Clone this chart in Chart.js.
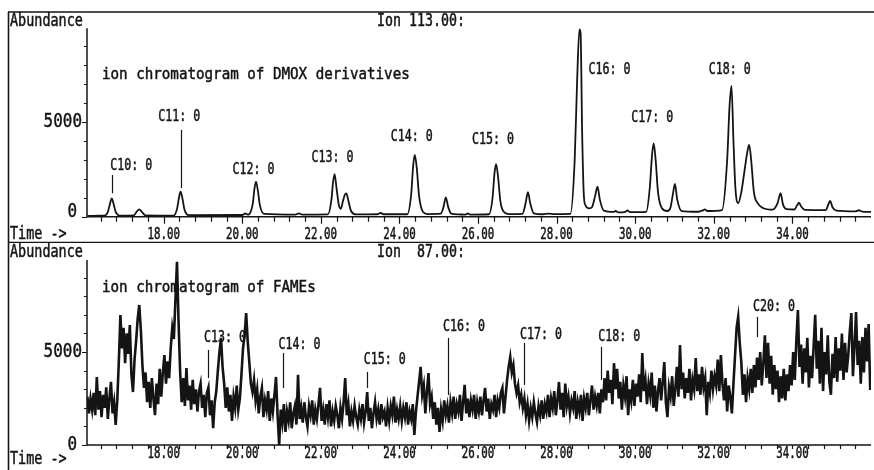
<!DOCTYPE html>
<html>
<head>
<meta charset="utf-8">
<title>Ion chromatograms</title>
<script src="https://cdn.jsdelivr.net/npm/chart.js@4.4.1/dist/chart.umd.min.js"></script>
<style>
  html, body { margin: 0; padding: 0; background: #fff; }
  #wrap { position: relative; width: 874px; height: 470px; overflow: hidden; }
  canvas { position: absolute; left: 0; }
  #dmoxChart { top: 0; }
  #fameChart { top: 243px; }
</style>
</head>
<body>
<div id="wrap">
  <canvas id="dmoxChart" width="874" height="243"></canvas>
  <canvas id="fameChart" width="874" height="227"></canvas>
</div>
<script>
// ion 113 - DMOX derivatives (time in min, abundance)
const dmoxTime = [
  16.06, 16.40, 16.50, 16.58, 16.63, 16.68, 16.73, 16.78, 16.88,
  17.24, 17.32, 17.38, 17.44, 17.54,
  18.25, 18.34, 18.39, 18.43, 18.48, 18.53, 18.64,
  20.00, 20.08, 20.14, 20.18, 20.27, 20.31, 20.35, 20.40, 20.45, 20.56,
  21.35, 21.44, 21.53,
  22.18, 22.27, 22.31, 22.35, 22.40, 22.46, 22.51, 22.56, 22.61, 22.65, 22.70, 22.77, 22.90,
  23.45, 23.52, 23.60,
  24.20, 24.30, 24.35, 24.39, 24.44, 24.50, 24.60, 24.72,
  25.05, 25.12, 25.18, 25.24, 25.32, 25.50, 25.68, 25.74, 25.80,
  26.28, 26.37, 26.42, 26.46, 26.51, 26.57, 26.67, 26.80,
  27.13, 27.21, 27.27, 27.33, 27.42, 27.65, 27.80, 27.95,
  28.35, 28.46, 28.52, 28.58, 28.61, 28.65, 28.69, 28.73, 28.83,
  28.90, 28.98, 29.04, 29.10, 29.20, 29.45, 29.50, 29.58, 29.75, 29.80, 29.87,
  30.28, 30.37, 30.43, 30.47, 30.52, 30.58, 30.68, 30.82,
  30.90, 30.96, 31.01, 31.07, 31.18, 31.60, 31.72, 31.77, 31.83,
  32.21, 32.34, 32.40, 32.45, 32.50, 32.55, 32.62,
  32.70, 32.80, 32.86, 32.90, 32.95, 33.02, 33.12, 33.25,
  33.50, 33.62, 33.70, 33.76, 33.85,
  34.05, 34.12, 34.17, 34.22, 34.32,
  34.85, 34.91, 34.96, 35.02, 35.12,
  35.60, 35.69, 35.78, 36.00
];
const dmoxAbundance = [
  40, 50, 60, 250, 650, 970, 650, 250, 60,
  70, 280, 390, 270, 70,
  60, 400, 1000, 1320, 950, 380, 80,
  90, 170, 110, 140, 700, 1450, 1850, 1350, 600, 150,
  110, 180, 110,
  120, 900, 1800, 2250, 1500, 600, 420, 800, 1150, 1235, 850, 300, 120,
  130, 195, 130,
  130, 1200, 2700, 3260, 2600, 1100, 250, 140,
  160, 500, 1020, 520, 160, 120, 110, 170, 110,
  130, 1000, 2300, 2770, 2100, 800, 230, 140,
  150, 700, 1290, 700, 180, 130, 160, 140,
  150, 2990, 7040, 9890, 9700, 4400, 1240, 620, 440,
  500, 1100, 1580, 900, 320, 250, 300, 230, 260, 330, 240,
  260, 1500, 3300, 3870, 3000, 1300, 450, 300,
  500, 1200, 1730, 900, 300, 260, 330, 390, 300,
  350, 2990, 5810, 6900, 4000, 1500, 710,
  1300, 2700, 3500, 3790, 3000, 1300, 700, 460,
  370, 700, 1240, 650, 400,
  380, 600, 740, 550, 360,
  350, 620, 830, 500, 320,
  280, 340, 270, 250
];

// ion 87 - FAMEs, one reading every 0.04 min from 16.06 min
const fameStart = 16.06;
const fameStep = 0.04;
const fameAbundance = [
  2600, 1700, 2500, 1900, 2800, 1600, 3650, 1900, 2900, 1500, 2700, 2000, 3100, 1400, 2500, 3400, 1700, 2300, 1080, 2400, 4500, 6990, 5200, 6300, 4400,
  6000, 4900, 6450, 3800, 2850, 4600, 5600, 6800, 7530, 6200, 4300, 3070, 3900, 2300, 3400, 2000, 3600, 2500, 1600, 3300, 2200, 4100, 2600, 3900, 4840,
  3300, 4500, 3600, 5200, 6300, 5700, 7800, 9850, 6620, 3930, 2300, 3600, 2100, 4140, 2400, 3200, 1900, 3500, 2200, 3000, 1800, 2900, 3300, 2000, 2700,
  1500, 2800, 3100, 1600, 2400, 900, 2300, 2900, 4000, 5000, 5760, 4200, 3300, 2000, 3100, 1800, 2700, 1300, 2600, 2000, 3200, 1900, 2500, 3800, 5200,
  5900, 7100, 5560, 4460, 3300, 2850, 3500, 2400, 3000, 1700, 2600, 3070, 1500, 2400, 1900, 2900, 1300, 2500, 1800, 2700, 3660, 1600, 0, 1900, 1200,
  2200, 700, 1800, 1300, 2300, 900, 1700, 2100, 1100, 3770, 1400, 2000, 1200, 2300, 1500, 1000, 2100, 1600, 2400, 1100, 1900, 1400, 2200, 3070, 1300,
  1900, 1100, 2200, 1500, 2400, 1000, 1800, 1300, 2100, 1600, 900, 2000, 1400, 2300, 3600, 1600, 2200, 1000, 1800, 1300, 2100, 1500, 1100, 1900, 1400,
  2200, 1200, 1800, 2850, 1300, 2000, 900, 1700, 2300, 1400, 1900, 1100, 2200, 1500, 1800, 1000, 2000, 1300, 2100, 1600, 2600, 1200, 1900, 1400, 2100,
  1300, 2000, 1500, 2300, 1100, 1800, 1400, 2200, 540, 1800, 2600, 3400, 4200, 2700, 3200, 1700, 2900, 3870, 2200, 2600, 1400, 2300, 1100, 2000, 700,
  1900, 1300, 2400, 1600, 2100, 1200, 2300, 1700, 2600, 1400, 2200, 1800, 2700, 1300, 2300, 3230, 1700, 2500, 1500, 2400, 1900, 2700, 1400, 2300, 1800,
  2600, 1600, 2400, 3070, 1800, 2500, 1400, 2200, 1900, 2700, 1500, 2400, 2000, 2800, 3070, 1700, 2600, 3500, 4200, 4730, 3900, 4300, 3300, 2800, 3200,
  2300, 2700, 2000, 2500, 1600, 2200, 1300, 2000, 1500, 2300, 1700, 1240, 2100, 1600, 2400, 1400, 2200, 1800, 2700, 1500, 2500, 2000, 2900, 1600, 2400,
  3390, 1900, 2800, 1500, 3300, 2100, 2600, 1700, 2400, 2000, 2900, 1400, 2300, 1800, 2700, 1300, 2500, 2000, 2800, 1600, 2400, 3200, 1900, 2600, 2100,
  2800, 1700, 3000, 2300, 3600, 2400, 4000, 2800, 3500, 2200, 4400, 3000, 4100, 2500, 3400, 1900, 3200, 2600, 3700, 1600, 3000, 2400, 3500, 2100, 3300,
  2600, 3800, 2300, 4950, 2900, 3500, 2200, 3300, 2700, 3900, 2000, 3200, 1800, 2900, 3600, 2400, 3400, 4460, 2300, 1500, 3100, 2600, 3700, 2100, 3000,
  4200, 2600, 5380, 3000, 3900, 2500, 3600, 2800, 4100, 2400, 3500, 3000, 4680, 2900, 3800, 2700, 4200, 3100, 3600, 1600, 3400, 2800, 4000, 3000, 3700,
  3200, 4600, 2900, 4840, 3300, 2400, 3600, 1800, 3200, 2600, 1700, 3300, 4800, 6300, 6890, 5500, 4460, 2700, 3800, 2300, 3600, 3000, 4100, 2800, 4300,
  3100, 4700, 3500, 5000, 3200, 4400, 5900, 3600, 5500, 3300, 4800, 2700, 4300, 3000, 4000, 2300, 3700, 2500, 4100, 2400, 3800, 2900, 4300, 3200, 5000,
  3500, 5600, 7260, 4200, 5400, 3300, 5200, 3900, 5760, 3100, 4800, 3600, 5300, 7000, 4100, 5600, 3300, 6300, 2900, 5000, 3800, 5900, 3400, 2700, 4900,
  3600, 5800, 3400, 5200, 4000, 6000, 3500, 5500, 3900, 4800, 6100, 7100, 3700, 5300, 7150, 4300, 5600, 3300, 5800, 3900, 6300, 4500, 6500, 2960
];

// axis labels
const timeTickValues = [18, 20, 22, 24, 26, 28, 30, 32, 34];
const timeTickLabels = ['18.00', '20.00', '22.00', '24.00', '26.00', '28.00', '30.00', '32.00', '34.00'];
const abundanceTickValues = [0, 5000];
const abundanceTickLabels = ['0', '5000'];

const INK = '#141414';
const FONT = '"DejaVu Sans Mono", "Liberation Mono", monospace';

// text squeezed to a fixed character pitch, like the plotter font
function putText(ctx, s, x, y, size, pitch, align) {
  ctx.save();
  ctx.font = size + 'px ' + FONT;
  ctx.textBaseline = 'middle';
  ctx.textAlign = 'left';
  const w = ctx.measureText(s).width;
  const tw = pitch * s.length;
  let x0 = x;
  if (align === 'right') x0 = x - tw;
  if (align === 'center') x0 = x - tw / 2;
  ctx.translate(x0, y);
  ctx.scale(tw / w, 1);
  ctx.fillStyle = INK;
  ctx.strokeStyle = INK;
  ctx.lineWidth = 0.5;
  ctx.fillText(s, 0, 0);
  ctx.strokeText(s, 0, 0);
  ctx.restore();
}

function makePanelPlugin(cfg) {
  return {
    id: 'panel' + cfg.name,
    afterDraw(chart) {
      const ctx = chart.ctx;
      const xs = chart.scales.x;
      const ys = chart.scales.y;
      const a = chart.chartArea;
      ctx.save();
      ctx.strokeStyle = INK;

      // page frame
      ctx.lineWidth = 1.6;
      ctx.beginPath();
      cfg.frame.forEach(s => { ctx.moveTo(s[0], s[1]); ctx.lineTo(s[2], s[3]); });
      ctx.stroke();

      // axes
      ctx.lineWidth = 1.5;
      ctx.beginPath();
      ctx.moveTo(a.left, a.top);
      ctx.lineTo(a.left, a.bottom);
      ctx.lineTo(a.right, a.bottom);
      ctx.stroke();

      // tick marks
      ctx.lineWidth = 1.2;
      ctx.beginPath();
      for (let v = 0; v <= 9000; v += 1000) {
        const py = Math.round(ys.getPixelForValue(v)) + 0.5;
        ctx.moveTo(a.left - (v % 5000 === 0 ? 5 : 3), py);
        ctx.lineTo(a.left, py);
      }
      for (let k = 0; k < 50; k++) {
        const t = 16.4 + k * 0.4;
        if (t > 35.7) break;
        const px = Math.round(xs.getPixelForValue(t)) + 0.5;
        const major = Math.abs(t / 2 - Math.round(t / 2)) < 0.01;
        ctx.moveTo(px, a.bottom);
        ctx.lineTo(px, a.bottom + (major ? cfg.tickLen[1] : cfg.tickLen[0]));
      }
      ctx.stroke();

      // tick labels
      timeTickValues.forEach((t, i) => {
        putText(ctx, timeTickLabels[i], xs.getPixelForValue(t), cfg.tickLabelY, 15, 6.5, 'center');
      });
      abundanceTickValues.forEach((v, i) => {
        const right = v === 0 ? 77 : 82;
        putText(ctx, abundanceTickLabels[i], right, ys.getPixelForValue(v) + cfg.zeroShift * (v === 0 ? 1 : 0), 20, 9.6, 'right');
      });

      // headers
      putText(ctx, 'Abundance', 10, cfg.headerY, 17, 8.1, 'left');
      putText(ctx, cfg.ion, 377, cfg.headerY, 17, 8.0, 'left');
      putText(ctx, 'Time ->', 10, cfg.timeY, 17, 8.1, 'left');

      // subtitle
      putText(ctx, cfg.title, xs.getPixelForValue(cfg.titleAt[0]), ys.getPixelForValue(cfg.titleAt[1]), 16, 8.55, 'left');

      // peak names with their marker strokes
      cfg.peaks.forEach(p => {
        putText(ctx, p.text, xs.getPixelForValue(p.t), ys.getPixelForValue(p.v), 16, 7.0, 'left');
        if (p.mark) {
          const mx = Math.round(xs.getPixelForValue(p.mark[0])) + 0.5;
          ctx.lineWidth = 1.2;
          ctx.beginPath();
          ctx.moveTo(mx, ys.getPixelForValue(p.mark[1]));
          ctx.lineTo(mx, ys.getPixelForValue(p.mark[2]));
          ctx.stroke();
        }
      });
      ctx.restore();
    }
  };
}

const dmoxPanel = {
  name: 'Dmox',
  ion: 'Ion 113.00:',
  title: 'ion chromatogram of DMOX derivatives',
  titleAt: [16.43, 7480],
  headerY: 21.5,
  timeY: 235,
  tickLabelY: 235,
  tickLen: [5, 7],
  zeroShift: -5,
  frame: [[8, 12, 874, 12], [8.5, 12, 8.5, 243], [8, 242.5, 874, 242.5]],
  peaks: [
    { text: 'C10: 0', t: 16.64, v: 2680, mark: [16.69, 2200, 1240] },
    { text: 'C11: 0', t: 17.86, v: 5260, mark: [18.45, 4580, 1515] },
    { text: 'C12: 0', t: 19.75, v: 2470 },
    { text: 'C13: 0', t: 21.76, v: 3100 },
    { text: 'C14: 0', t: 23.78, v: 4210 },
    { text: 'C15: 0', t: 25.85, v: 4050 },
    { text: 'C16: 0', t: 28.81, v: 7750 },
    { text: 'C17: 0', t: 29.90, v: 5210 },
    { text: 'C18: 0', t: 31.87, v: 7750 }
  ]
};

const famePanel = {
  name: 'Fame',
  ion: 'Ion  87.00:',
  title: 'ion chromatogram of FAMEs',
  titleAt: [16.43, 8450],
  headerY: 9.5,
  timeY: 217,
  tickLabelY: 211,
  tickLen: [4, 4],
  zeroShift: 0,
  frame: [[8.5, 0, 8.5, 227]],
  peaks: [
    { text: 'C13: 0', t: 19.03, v: 5760, mark: [19.14, 5110, 3600] },
    { text: 'C14: 0', t: 20.92, v: 5380, mark: [21.05, 4950, 3070] },
    { text: 'C15: 0', t: 23.09, v: 4570, mark: [23.17, 3930, 3070] },
    { text: 'C16: 0', t: 25.11, v: 6350, mark: [25.23, 5760, 2690] },
    { text: 'C17: 0', t: 27.07, v: 5920, mark: [27.17, 5490, 3230] },
    { text: 'C18: 0', t: 29.06, v: 5810, mark: [29.14, 5270, 3500] },
    { text: 'C20: 0', t: 33.00, v: 7420, mark: [33.09, 6890, 5810] }
  ]
};

function baseOptions(padding) {
  return {
    responsive: false,
    animation: false,
    devicePixelRatio: 1,
    events: [],
    layout: { padding: padding },
    plugins: { legend: { display: false }, tooltip: { enabled: false } },
    scales: {
      x: { type: 'linear', min: 16.05, max: 36.0, display: false },
      y: { type: 'linear', min: 0, max: 9950, display: false }
    }
  };
}

new Chart(document.getElementById('dmoxChart'), {
  type: 'line',
  data: {
    datasets: [{
      data: dmoxTime.map((t, i) => ({ x: t, y: dmoxAbundance[i] })),
      borderColor: INK,
      borderWidth: 1.8,
      pointRadius: 0,
      cubicInterpolationMode: 'monotone',
      fill: false
    }]
  },
  options: baseOptions({ left: 87, right: 3, top: 28.2, bottom: 26.3 }),
  plugins: [makePanelPlugin(dmoxPanel)]
});

new Chart(document.getElementById('fameChart'), {
  type: 'line',
  data: {
    datasets: [{
      data: fameAbundance.map((v, i) => ({ x: fameStart + i * fameStep, y: v })),
      borderColor: INK,
      borderWidth: 2.6,
      borderJoinStyle: 'miter',
      pointRadius: 0,
      tension: 0,
      fill: false
    }]
  },
  options: baseOptions({ left: 87, right: 3, top: 17, bottom: 25 }),
  plugins: [makePanelPlugin(famePanel)]
});
</script>
</body>
</html>
